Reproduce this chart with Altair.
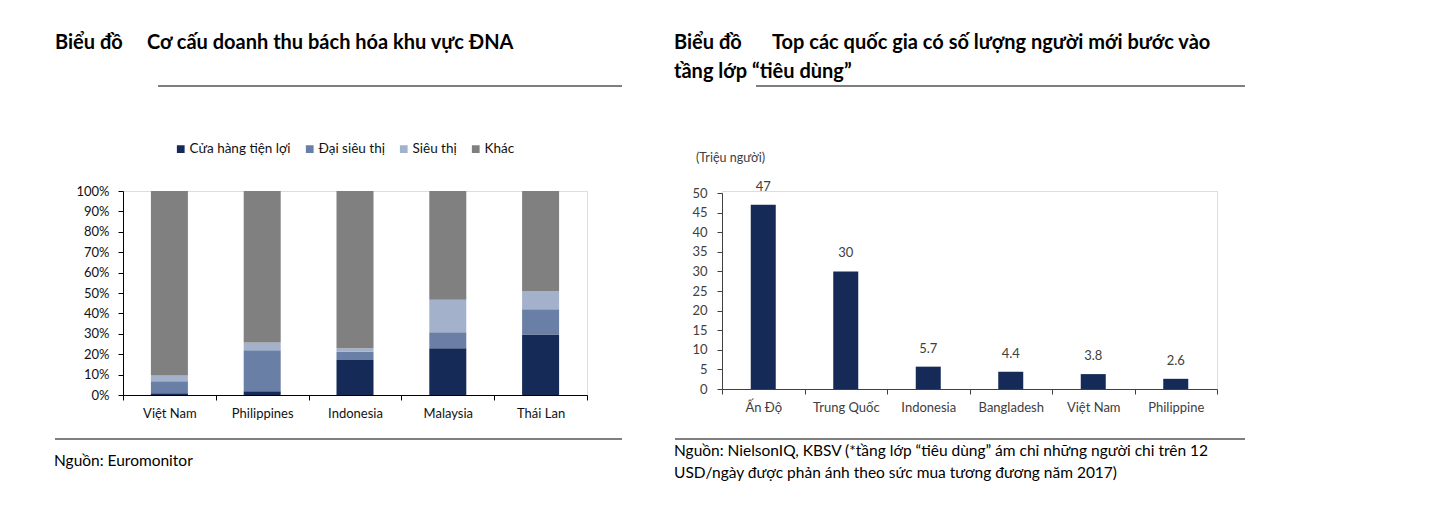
import altair as alt
import pandas as pd

FONT = "Lato"

# ---------------- Left chart data ----------------
countries_l = ["Việt Nam", "Philippines", "Indonesia", "Malaysia", "Thái Lan"]
types_l = ["Cửa hàng tiện lợi", "Đại siêu thị", "Siêu thị", "Khác"]
colors_l = ["#152a57", "#6a7fa6", "#a3b1cb", "#808080"]
conv = [0.8, 1.8, 17.2, 22.9, 29.7]
hyper = [5.9, 20.1, 4.0, 7.8, 12.3]
super_ = [2.8, 3.8, 1.7, 16.0, 9.0]
other = [90.5, 74.3, 77.1, 53.3, 49.0]
pct_ticks = [0, 10, 20, 30, 40, 50, 60, 70, 80, 90, 100]

# ---------------- Right chart data ----------------
countries_r = ["Ấn Độ", "Trung Quốc", "Indonesia", "Bangladesh", "Việt Nam", "Philippine"]
values_r = [47, 30, 5.7, 4.4, 3.8, 2.6]
labels_r = ["47", "30", "5.7", "4.4", "3.8", "2.6"]
y_ticks_r = [0, 5, 10, 15, 20, 25, 30, 35, 40, 45, 50]

rows = []
for i, c in enumerate(countries_l):
    for k, (t, arr) in enumerate(zip(types_l, [conv, hyper, super_, other])):
        rows.append({"country": c, "type": t, "value": arr[i], "ord": k})
df_l = pd.DataFrame(rows)
df_r = pd.DataFrame({"country": countries_r, "value": values_r, "label": labels_r})

LW, LH = 464, 204
RW, RH = 495, 198
TS = 20    # title font size
SS = 15.5  # source font size


def txt(s, x, y, size=14, bold=False, color="#000000"):
    return alt.Chart(pd.DataFrame({"t": [s]})).mark_text(
        align="left", baseline="middle", fontSize=size,
        fontWeight="bold" if bold else "normal", color=color, font=FONT
    ).encode(x=alt.value(x), y=alt.value(y), text="t:N")


def hline(x1, x2, y):
    return alt.Chart(pd.DataFrame({"a": [0]})).mark_rule(
        color="#000000", strokeWidth=1.2
    ).encode(x=alt.value(x1), x2=alt.value(x2), y=alt.value(y))


# ---------------- Left panel ----------------
bars_l = alt.Chart(df_l).mark_bar(size=37).encode(
    x=alt.X("country:N", sort=countries_l, title=None,
            scale=alt.Scale(paddingInner=0, paddingOuter=0),
            axis=alt.Axis(labelAngle=0, tickBand="extent", tickSize=5,
                          labelPadding=7, labelFontSize=13, labelColor="#111111",
                          domainColor="#000000", tickColor="#000000", labelFont=FONT)),
    y=alt.Y("value:Q", stack="zero", title=None,
            scale=alt.Scale(domain=[0, 100], nice=False),
            axis=alt.Axis(values=pct_ticks, labelExpr="datum.value + '%'", grid=False,
                          tickSize=5, labelPadding=9, labelFontSize=13,
                          labelColor="#111111", domainColor="#000000",
                          tickColor="#000000", labelFont=FONT)),
    color=alt.Color("type:N", scale=alt.Scale(domain=types_l, range=colors_l),
                    legend=alt.Legend(title=None, orient="none", direction="horizontal",
                                      legendX=51, legendY=-49, symbolType="square",
                                      symbolSize=60, symbolStrokeWidth=0,
                                      labelFontSize=13.5, labelFont=FONT,
                                      labelColor="#111111", labelOffset=2,
                                      columnPadding=12)),
    order=alt.Order("ord:Q"),
)

left = alt.layer(
    bars_l,
    txt("Biểu đồ", -68, -148, size=TS, bold=True),
    txt("Cơ cấu doanh thu bách hóa khu vực ĐNA", 24, -148, size=TS, bold=True),
    hline(35, 499, -105),
    hline(-68, 499, 248),
    txt("Nguồn: Euromonitor", -69, 270, size=SS),
).properties(width=LW, height=LH)

# ---------------- Right panel ----------------
base_r = alt.Chart(df_r).encode(
    x=alt.X("country:N", sort=countries_r, title=None,
            scale=alt.Scale(paddingInner=0, paddingOuter=0),
            axis=alt.Axis(labelAngle=0, tickBand="extent", tickSize=5,
                          labelPadding=7, labelFontSize=13, labelColor="#404040",
                          domainColor="#404040", tickColor="#404040", labelFont=FONT)),
    y=alt.Y("value:Q", title=None,
            scale=alt.Scale(domain=[0, 50], nice=False, range=[RH, 2]),
            axis=alt.Axis(values=y_ticks_r, grid=False, tickSize=5, labelPadding=10,
                          labelFontSize=13, labelColor="#404040",
                          domainColor="#404040", tickColor="#404040", labelFont=FONT)),
)
bars_r = base_r.mark_bar(size=25, color="#152a57")
vals_r = base_r.mark_text(dy=-18, fontSize=13, color="#404040", font=FONT).encode(
    text="label:N")

right = alt.layer(
    bars_r,
    vals_r,
    txt("Biểu đồ", -48, -148, size=TS, bold=True),
    txt("Top các quốc gia có số lượng người mới bước vào", 50, -148, size=TS, bold=True),
    txt("tầng lớp “tiêu dùng”", -48, -119, size=TS, bold=True),
    hline(34, 523, -105),
    txt("(Triệu người)", -26, -33, size=12.5, color="#404040"),
    hline(-47, 523, 248),
    txt("Nguồn: NielsonIQ, KBSV (*tầng lớp “tiêu dùng” ám chỉ những người chi trên 12",
        -48, 260, size=SS),
    txt("USD/ngày được phản ánh theo sức mua tương đương năm 2017)", -48, 282, size=SS),
).properties(width=RW, height=RH)

chart = alt.hconcat(left, right, spacing=135, bounds="flush").properties(
    padding={"left": 45, "top": 24, "right": 5, "bottom": 5}
).configure_view(stroke=None).configure(font=FONT)

chart.save("out.html", embed_options={"renderer": "svg", "actions": False})
